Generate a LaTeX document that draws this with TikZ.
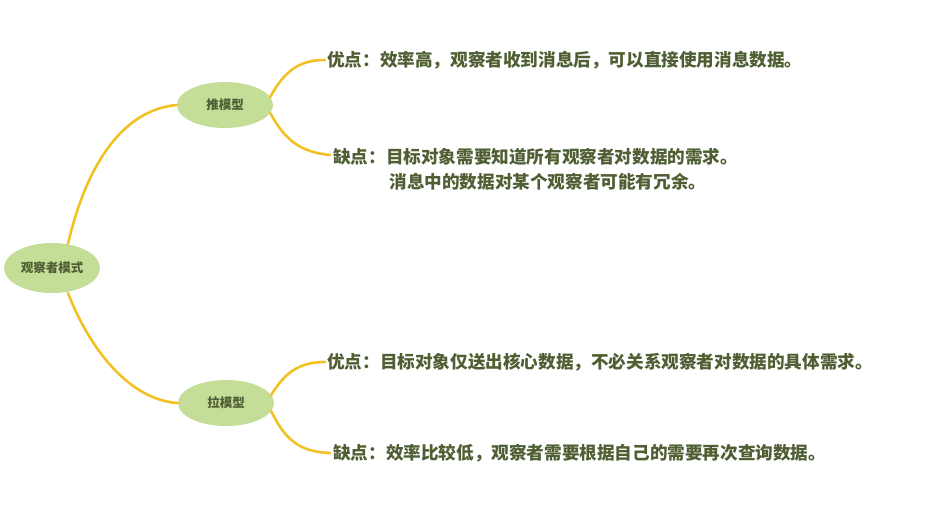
\documentclass[tikz,border=0pt]{standalone}
\usepackage{fontspec}
\newfontfamily\cjk{Noto Sans CJK SC}
\usetikzlibrary{shapes.geometric}
\definecolor{blobc}{HTML}{C4DE98}
\definecolor{linec}{HTML}{F2C224}
\definecolor{txtc}{HTML}{4F5F33}
\tikzset{
 blob/.style={ellipse,fill=blobc,text=txtc,font=\cjk\bfseries\fontsize{12.5}{14}\selectfont,inner sep=1pt},
 conn/.style={draw=linec,line width=2.6pt,line cap=round},
 lbl/.style={anchor=west,text=txtc,font=\cjk\bfseries\fontsize{17.6}{25}\selectfont,inner sep=0pt,align=left}
}
\begin{document}
\begin{tikzpicture}[x=1pt,y=-1pt]
\useasboundingbox (0,0) rectangle (938,531);
\node[blob,minimum width=96,minimum height=50] (root) at (52,268) {观察者模式};
\node[blob,minimum width=96,minimum height=46] (push) at (225,105) {推模型};
\node[blob,minimum width=96,minimum height=46] (pull) at (226,403) {拉模型};
\coordinate (pa) at (325,60);
\coordinate (pb) at (330,155);
\coordinate (la) at (325,362);
\coordinate (lb) at (330,453);
\node[lbl] (t1) at (327,60) {优点：效率高，观察者收到消息后，可以直接使用消息数据。};
\node[lbl,anchor=north west] (t2) at (333,148) {缺点：目标对象需要知道所有观察者对数据的需求。\\\hspace{3.2em}消息中的数据对某个观察者可能有冗余。};
\node[lbl] (t3) at (327,362) {优点：目标对象仅送出核心数据，不必关系观察者对数据的具体需求。};
\node[lbl] (t4) at (333,453) {缺点：效率比较低，观察者需要根据自己的需要再次查询数据。};
\draw[conn] (68,244) .. controls (85,170) and (120,110) .. (push.west);
\draw[conn] (68,293) .. controls (90,350) and (130,400) .. (pull.west);
\draw[conn] (push.east) ++(-3,-8) .. controls (285,70) and (300,60) .. (pa);
\draw[conn] (push.east) ++(-3,8) .. controls (285,140) and (300,152) .. (pb);
\draw[conn] (pull.east) ++(-3,-8) .. controls (285,372) and (300,362) .. (la);
\draw[conn] (pull.east) ++(-3,8) .. controls (285,440) and (300,452) .. (lb);
\end{tikzpicture}
\end{document}
